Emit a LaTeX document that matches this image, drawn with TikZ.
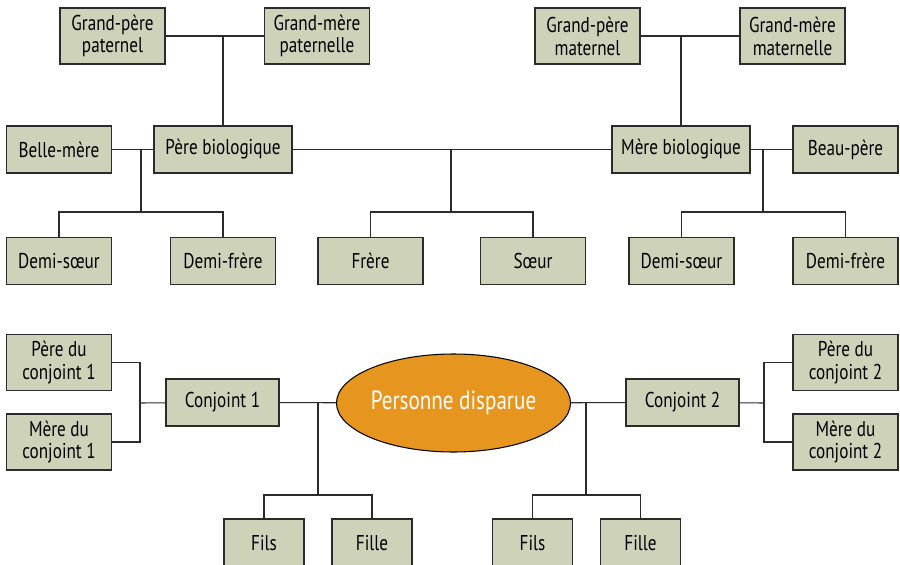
\documentclass[tikz,border=0pt]{standalone}
\usepackage{fontspec}
\setmainfont[FakeStretch=0.8]{PT Sans}
\usepackage{xcolor}
\usepackage{tikz}
\usetikzlibrary{positioning,calc,shapes.geometric}
\definecolor{boxgreen}{HTML}{CDD2B9}
\definecolor{pdorange}{HTML}{E6961F}
\definecolor{boxline}{HTML}{2B2B2B}

\begin{document}
\begin{tikzpicture}[x=0.02cm,y=-0.02cm,
                          box/.style={rectangle,draw=boxline,line width=0.75pt,fill=boxgreen,
                                      align=center,inner sep=0pt,minimum width=2.1cm,minimum height=0.94cm,
                                      font=\fontsize{12.2}{13}\selectfont},
                          tall/.style={box,minimum height=1.12cm},
                          wide/.style={box,minimum width=2.76cm},
                          mid/.style={box,minimum width=2.26cm},
                          small/.style={box,minimum width=1.6cm,minimum height=0.96cm},
                          link/.style={line width=0.6pt,draw=boxline}]
            \useasboundingbox (0,0) rectangle (900,565);
            %Nodes
                \node[tall] (gpp) at (112.5,36) {Grand-père\\paternel};
                \node[tall] (gmp) at (317,36) {Grand-mère\\paternelle};
                \node[tall] (gpm) at (587.5,36) {Grand-père\\maternel};
                \node[tall] (gmm) at (792.5,36) {Grand-mère\\maternelle};
                \node[box] (bm) at (59,149.5) {Belle-mère};
                \node[wide] (pb) at (223,149.5) {Père biologique};
                \node[wide] (mb) at (681,149.5) {Mère biologique};
                \node[box] (bp) at (845.5,149.5) {Beau-père};
                \node[box] (ds1) at (59,261) {Demi-sœur};
                \node[box] (df1) at (223,261) {Demi-frère};
                \node[box] (fr) at (370.5,261) {Frère};
                \node[box] (sr) at (533,261) {Sœur};
                \node[box] (ds2) at (681.5,261) {Demi-sœur};
                \node[box] (df2) at (845.5,261) {Demi-frère};
                \node[tall] (pc1) at (59,362.5) {Père du\\conjoint 1};
                \node[tall] (mc1) at (59,442) {Mère du\\conjoint 1};
                \node[mid] (c1) at (222.5,402.5) {Conjoint 1};
                \node[ellipse,draw=black,line width=0.6pt,fill=pdorange,text=white,inner sep=0pt,
                      minimum width=4.62cm,minimum height=1.96cm,font=\fontsize{15}{17}\selectfont]
                      (pd) at (453.5,403) {Personne disparue};
                \node[mid] (c2) at (682.5,402.5) {Conjoint 2};
                \node[tall] (pc2) at (845.5,362.5) {Père du\\conjoint 2};
                \node[tall] (mc2) at (845.5,442) {Mère du\\conjoint 2};
                \node[small] (fi1) at (264,543) {Fils};
                \node[small] (fe1) at (372,543) {Fille};
                \node[small] (fi2) at (532.5,543) {Fils};
                \node[small] (fe2) at (640.5,543) {Fille};

            %Junctions
                \coordinate (j1) at (141,149.5);
                \coordinate (k1) at (141,212);
                \coordinate (j0) at (451,149.5);
                \coordinate (k0) at (451,212);
                \coordinate (j2) at (763,149.5);
                \coordinate (k2) at (763,212);
                \coordinate (b1) at (140,403);
                \coordinate (b2) at (764,403);
                \coordinate (j3) at (318,403);
                \coordinate (k3) at (318,495);
                \coordinate (j4) at (586,403);
                \coordinate (k4) at (586,495);

            %Lines
                \draw[link] (gpp) -- (gmp);
                \draw[link] (pb) -- (pb |- gpp);
                \draw[link] (gpm) -- (gmm);
                \draw[link] (mb) -- (mb |- gpm);
                \draw[link] (bm) -- (pb);
                \draw[link] (pb) -- (mb);
                \draw[link] (mb) -- (bp);
                \draw[link] (j1) -- (k1);
                \draw[link] (ds1) |- (k1) -| (df1);
                \draw[link] (j0) -- (k0);
                \draw[link] (fr) |- (k0) -| (sr);
                \draw[link] (j2) -- (k2);
                \draw[link] (ds2) |- (k2) -| (df2);
                \draw[link] (pc1) -| (b1) |- (mc1);
                \draw[link] (b1) -- (c1);
                \draw[link] (c1) -- (pd);
                \draw[link] (j3) -- (k3);
                \draw[link] (fi1) |- (k3) -| (fe1);
                \draw[link] (pd) -- (c2);
                \draw[link] (c2) -- (b2);
                \draw[link] (pc2) -| (b2) |- (mc2);
                \draw[link] (j4) -- (k4);
                \draw[link] (fi2) |- (k4) -| (fe2);
            \end{tikzpicture}
\end{document}
